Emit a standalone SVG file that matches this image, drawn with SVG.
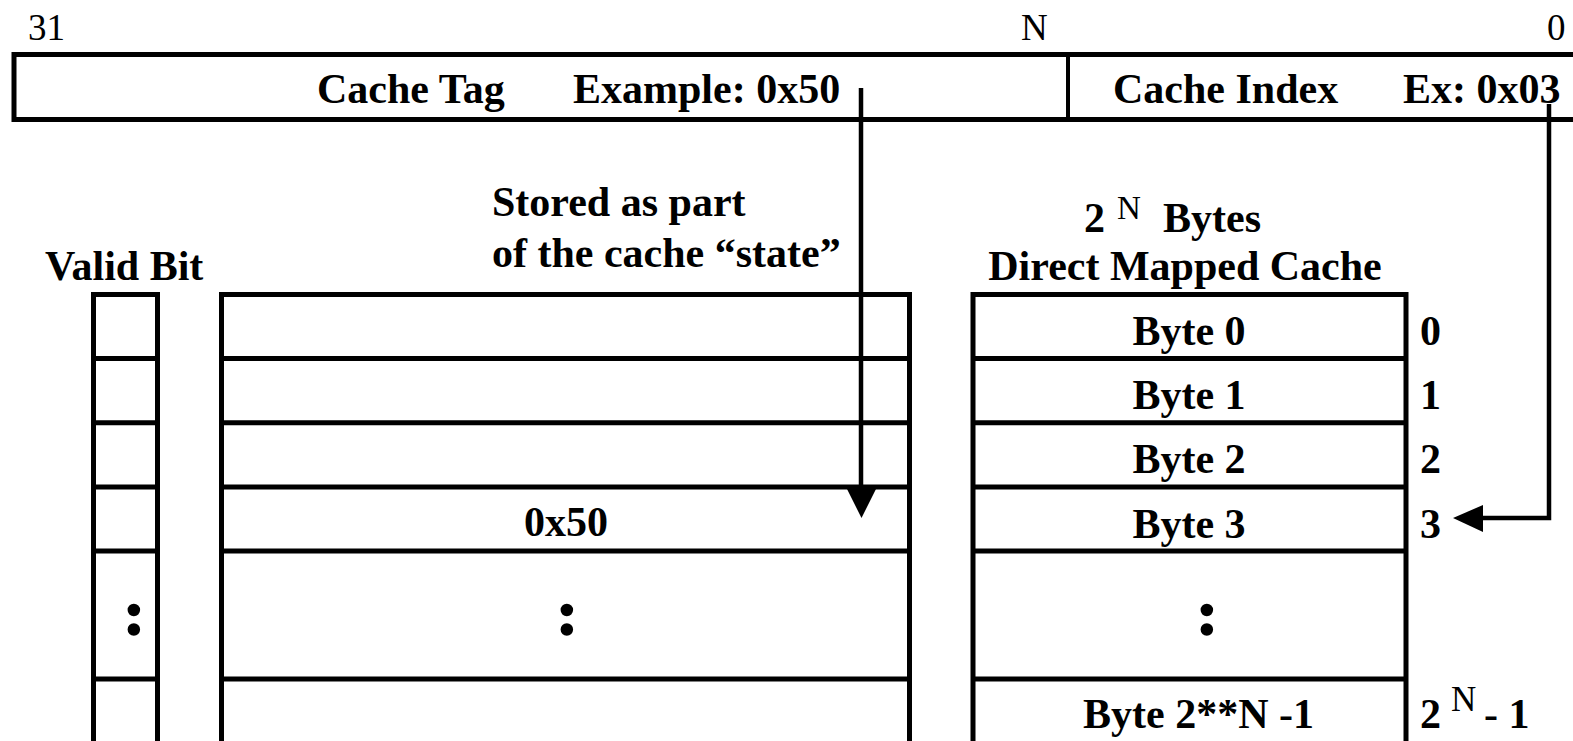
<svg xmlns="http://www.w3.org/2000/svg" width="1573" height="741" viewBox="0 0 1573 741">
<style>
.b{font-family:"Liberation Serif","Times New Roman",serif;font-weight:bold;font-size:42px;fill:#000}
.r{font-family:"Liberation Serif","Times New Roman",serif;font-weight:normal;fill:#000}
.dots{font-family:"Liberation Serif","Times New Roman",serif;font-weight:bold;font-size:62px;fill:#000;stroke:#000;stroke-width:2.5;text-anchor:middle}
.box{fill:#fff;stroke:#000;stroke-width:5}
.ln{stroke:#000;stroke-width:5;fill:none}
.cn{stroke:#000;stroke-width:4.5;fill:none}
</style>
<rect width="1573" height="741" fill="#fff"/>
<g id="address">
<text class="r" x="28" y="40" font-size="37">31</text>
<text class="r" x="1021" y="40" font-size="37">N</text>
<text class="r" x="1547" y="40" font-size="37">0</text>
<rect class="box" x="14" y="54.5" width="1580" height="65"/>
<line x1="1068" y1="57" x2="1068" y2="117" stroke="#000" stroke-width="4"/>
<text class="b" x="317" y="103">Cache Tag</text>
<text class="b" x="573" y="103">Example: 0x50</text>
<text class="b" x="1113" y="103">Cache Index</text>
<text class="b" x="1403" y="103">Ex: 0x03</text>
</g>
<g id="valid-bit">
<text class="b" x="45" y="280">Valid Bit</text>
<rect class="box" x="93.5" y="294.5" width="64" height="480"/>
<line class="ln" x1="93.5" y1="358.5" x2="157.5" y2="358.5"/>
<line class="ln" x1="93.5" y1="422.75" x2="157.5" y2="422.75"/>
<line class="ln" x1="93.5" y1="487" x2="157.5" y2="487"/>
<line class="ln" x1="93.5" y1="551" x2="157.5" y2="551"/>
<line class="ln" x1="93.5" y1="679" x2="157.5" y2="679"/>
<text class="dots" x="134" y="634">:</text>
</g>
<g id="cache-tag">
<text class="b" x="492" y="216">Stored as part</text>
<text class="b" x="492" y="267">of the cache “state”</text>
<rect class="box" x="221.5" y="294.5" width="688" height="480"/>
<line class="ln" x1="221.5" y1="358.5" x2="909.5" y2="358.5"/>
<line class="ln" x1="221.5" y1="422.75" x2="909.5" y2="422.75"/>
<line class="ln" x1="221.5" y1="487" x2="909.5" y2="487"/>
<line class="ln" x1="221.5" y1="551" x2="909.5" y2="551"/>
<line class="ln" x1="221.5" y1="679" x2="909.5" y2="679"/>
<text class="b" x="566" y="536" text-anchor="middle">0x50</text>
<text class="dots" x="567" y="634">:</text>
</g>
<g id="cache-data">
<text class="b" x="1084" y="232">2</text>
<text class="r" x="1117" y="219" font-size="33">N</text>
<text class="b" x="1163" y="232">Bytes</text>
<text class="b" x="1185" y="280" text-anchor="middle">Direct Mapped Cache</text>
<rect class="box" x="973" y="294.5" width="433" height="480"/>
<line class="ln" x1="973" y1="358.5" x2="1406" y2="358.5"/>
<line class="ln" x1="973" y1="422.75" x2="1406" y2="422.75"/>
<line class="ln" x1="973" y1="487" x2="1406" y2="487"/>
<line class="ln" x1="973" y1="551" x2="1406" y2="551"/>
<line class="ln" x1="973" y1="679" x2="1406" y2="679"/>
<text class="b" x="1189" y="345" text-anchor="middle">Byte 0</text>
<text class="b" x="1189" y="409" text-anchor="middle">Byte 1</text>
<text class="b" x="1189" y="473" text-anchor="middle">Byte 2</text>
<text class="b" x="1189" y="538" text-anchor="middle">Byte 3</text>
<text class="dots" x="1207" y="634">:</text>
<text class="b" x="1083" y="728">Byte 2**N -1</text>
</g>
<g id="index-labels">
<text class="b" x="1420" y="345">0</text>
<text class="b" x="1420" y="409">1</text>
<text class="b" x="1420" y="473">2</text>
<text class="b" x="1420" y="538">3</text>
<text class="b" x="1420" y="728">2</text>
<text class="r" x="1451" y="711" font-size="35">N</text>
<text class="b" x="1484" y="728">- 1</text>
</g>
<g id="connectors">
<line class="cn" x1="861" y1="88" x2="861" y2="492"/>
<polygon points="847,489 876,489 861.5,518" fill="#000"/>
<polyline class="cn" points="1549,104 1549,518 1480,518"/>
<polygon points="1453,518 1483,505 1483,532" fill="#000"/>
</g>
</svg>
